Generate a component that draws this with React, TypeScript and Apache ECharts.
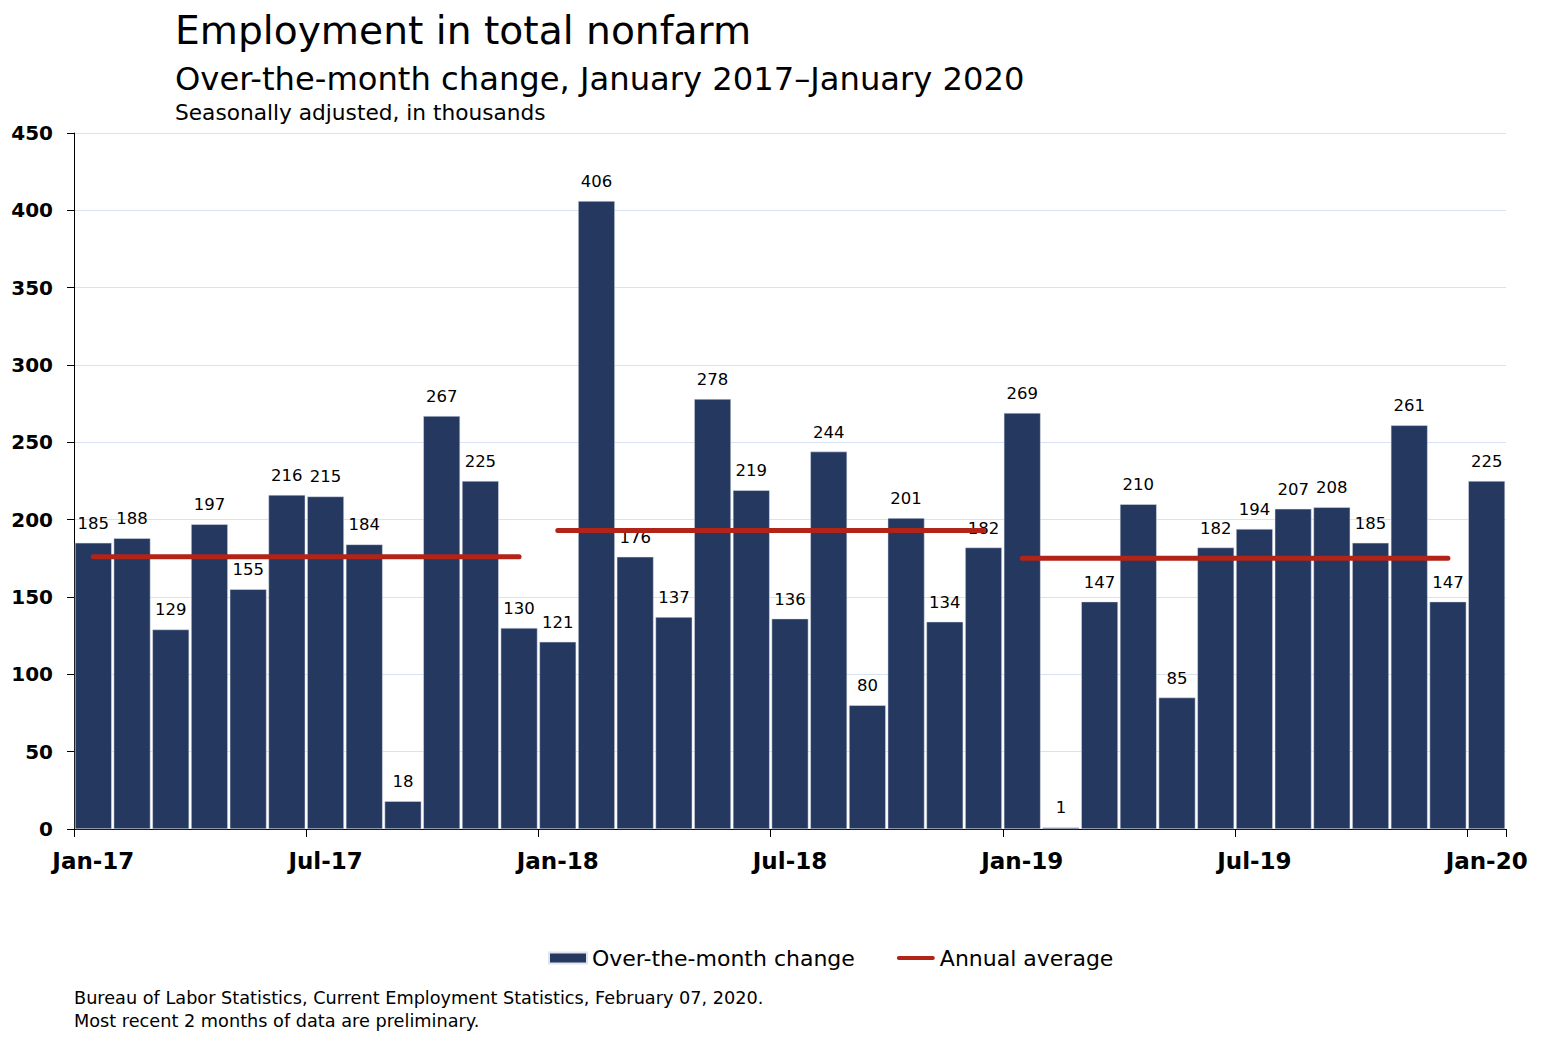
import React, { useEffect, useRef } from "react";
import * as echarts from "echarts";

const MONTHS = ["Jan", "Feb", "Mar", "Apr", "May", "Jun", "Jul", "Aug", "Sep", "Oct", "Nov", "Dec"];
const YEARS = ["17", "18", "19"];
const categories: string[] = [];
YEARS.forEach((y) => MONTHS.forEach((m) => categories.push(`${m}-${y}`)));
categories.push("Jan-20");

const monthlyChange = [
  185, 188, 129, 197, 155, 216, 215, 184, 18, 267, 225, 130,
  121, 406, 176, 137, 278, 219, 136, 244, 80, 201, 134, 182,
  269, 1, 147, 210, 85, 182, 194, 207, 208, 185, 261, 147,
  225,
];

const annualAverages = [176, 193, 175];

const yTicks = { min: 0, max: 450, interval: 50 };

const FONT = "DejaVu Sans, Verdana, sans-serif";
const BAR_COLOR = "#253860";
const LINE_COLOR = "#B22318";
const LINE_ICON = "path://M2.5,0 H44.5 A2.5,2.5 0 0 1 44.5,5 H2.5 A2.5,2.5 0 0 1 2.5,0 Z";

function avgSeriesData(yearIndex: number) {
  return categories.map((_, i) =>
    Math.floor(i / 12) === yearIndex && i < 36 ? annualAverages[yearIndex] : "-"
  );
}

export default function App() {
  const ref = useRef<HTMLDivElement>(null);
  useEffect(() => {
    if (!ref.current) return;
    const chart = echarts.init(ref.current, undefined, { renderer: "svg" });
    const lineSeries = annualAverages.map((_, yi) => ({
      name: "Annual average",
      type: "line",
      data: avgSeriesData(yi),
      symbol: "none",
      showSymbol: false,
      z: 3,
      lineStyle: { color: LINE_COLOR, width: 5, cap: "round" },
      itemStyle: { color: LINE_COLOR },
    }));
    chart.setOption({
      animation: false,
      backgroundColor: "#ffffff",
      textStyle: { fontFamily: FONT },
      grid: { left: 74, right: 36, top: 133, bottom: 223, containLabel: false },
      legend: {
        left: 543,
        top: 942,
        itemWidth: 38,
        itemHeight: 11,
        itemGap: 42,
        symbolKeepAspect: true,
        textStyle: { fontFamily: FONT, fontSize: 22, color: "#000" },
        data: [
          { name: "Over-the-month change", icon: "rect" },
          { name: "Annual average", icon: LINE_ICON, itemStyle: { color: LINE_COLOR } },
        ],
      },
      xAxis: {
        type: "category",
        data: categories,
        boundaryGap: true,
        axisLine: { show: true, lineStyle: { color: "#000", width: 1 } },
        axisTick: { show: true, interval: 5, length: 8, alignWithLabel: false, lineStyle: { color: "#000" } },
        axisLabel: {
          interval: 5,
          margin: 20,
          fontFamily: FONT,
          fontSize: 23,
          fontWeight: "bold",
          color: "#000",
        },
        splitLine: { show: false },
      },
      yAxis: {
        type: "value",
        min: yTicks.min,
        max: yTicks.max,
        interval: yTicks.interval,
        axisLine: { show: true, lineStyle: { color: "#000", width: 1 } },
        axisTick: { show: true, length: 7, lineStyle: { color: "#000" } },
        axisLabel: {
          margin: 21,
          fontFamily: FONT,
          fontSize: 20,
          fontWeight: "bold",
          color: "#000",
        },
        splitLine: { show: true, lineStyle: { color: "#d9e2f0", width: 1 } },
      },
      series: [
        {
          name: "Over-the-month change",
          type: "bar",
          data: monthlyChange,
          barCategoryGap: "5%",
          itemStyle: { color: BAR_COLOR, borderColor: "#dfe4ee", borderWidth: 0.5 },
          label: {
            show: true,
            position: "top",
            distance: 11,
            fontFamily: FONT,
            fontSize: 16.5,
            color: "#000",
          },
          z: 2,
        },
        ...lineSeries,
      ],
      graphic: [
        {
          type: "text",
          x: 175,
          y: 0,
          style: {
            x: 0,
            y: 30,
            text: "Employment in total nonfarm",
            fontFamily: FONT,
            fontSize: 39.2,
            fill: "#000",
            verticalAlign: "middle",
          },
        },
        {
          type: "text",
          x: 175,
          y: 0,
          style: {
            x: 0,
            y: 78.5,
            text: "Over-the-month change, January 2017\u2013January 2020",
            fontFamily: FONT,
            fontSize: 32.2,
            fill: "#000",
            verticalAlign: "middle",
          },
        },
        {
          type: "text",
          x: 175,
          y: 0,
          style: {
            x: 0,
            y: 112.5,
            text: "Seasonally adjusted, in thousands",
            fontFamily: FONT,
            fontSize: 21.7,
            fill: "#000",
            verticalAlign: "middle",
          },
        },
        {
          type: "text",
          x: 74,
          y: 0,
          style: {
            x: 0,
            y: 998,
            text: "Bureau of Labor Statistics, Current Employment Statistics, February 07, 2020.",
            fontFamily: FONT,
            fontSize: 17.7,
            fill: "#000",
            verticalAlign: "middle",
          },
        },
        {
          type: "text",
          x: 74,
          y: 0,
          style: {
            x: 0,
            y: 1021,
            text: "Most recent 2 months of data are preliminary.",
            fontFamily: FONT,
            fontSize: 17.7,
            fill: "#000",
            verticalAlign: "middle",
          },
        },
      ],
    });
    return () => chart.dispose();
  }, []);
  return <div ref={ref} style={{ width: 1542, height: 1052, position: "absolute", left: 0, top: 0 }} />;
}
